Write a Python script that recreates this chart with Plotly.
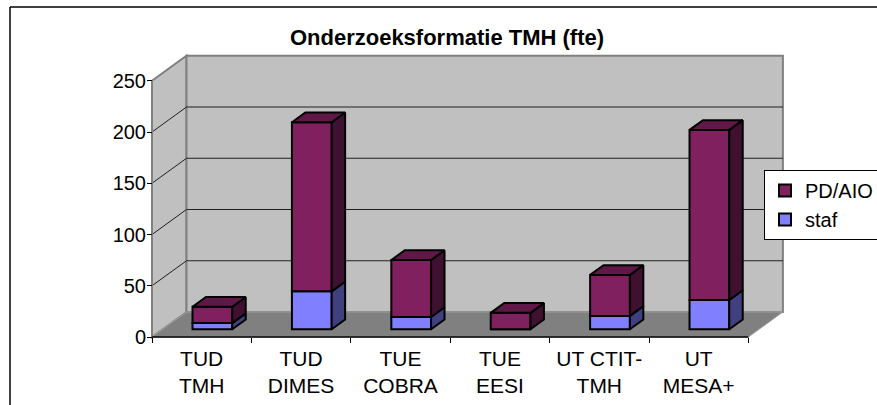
import plotly.graph_objects as go

# ---- data ----
categories = ["TUD<br>TMH", "TUD<br>DIMES", "TUE<br>COBRA", "TUE<br>EESI", "UT CTIT-<br>TMH", "UT<br>MESA+"]
staf = [6, 37, 12, 0, 13, 28.5]
pd_aio = [16, 165, 55.5, 16, 40, 166]
y_ticks = [0, 50, 100, 150, 200, 250]
title_text = "Onderzoeksformatie TMH (fte)"

# ---- geometry (pixels -> data units) ----
W, H = 877, 405
PX = 99.4          # px per category
PY = 1.025         # px per value unit
X0PX, Y0PX = 152, 337   # pixel position of origin (front axis)
L, R, T, B = 142, 84, 46, 58
plotW = W - L - R
plotH = H - T - B
xmin = -(X0PX - L) / PX
xmax = xmin + plotW / PX
ymin = -((H - B) - Y0PX) / PY
ymax = ymin + plotH / PY

DX = 34.5 / PX      # depth vector of floor (x units)
DY = 25.0 / PY      # depth vector of floor (y units)
F0, F1 = 0.31, 0.70  # bar front/back depth fractions
BW = 0.40            # bar width in category units
n = len(categories)
ymax_axis = y_ticks[-1]

c_pd, c_pd_side, c_pd_top = "#80205F", "#401030", "#601848"
c_st, c_st_side, c_st_top = "#8080FF", "#404080", "#6060C0"

fig = go.Figure()

def poly(pts):
    return "M " + " L ".join(f"{x},{y}" for x, y in pts) + " Z"

shapes = []
# side wall
shapes.append(dict(type="path", xref="x", yref="y", layer="below",
                   path=poly([(0, 0), (DX, DY), (DX, ymax_axis + DY), (0, ymax_axis)]),
                   fillcolor="#C0C0C0", line=dict(color="#808080", width=2)))
# back wall
shapes.append(dict(type="path", xref="x", yref="y", layer="below",
                   path=poly([(DX, DY), (n + DX, DY), (n + DX, ymax_axis + DY), (DX, ymax_axis + DY)]),
                   fillcolor="#C0C0C0", line=dict(color="#808080", width=2)))
# floor
shapes.append(dict(type="path", xref="x", yref="y", layer="below",
                   path=poly([(0, 0), (n, 0), (n + DX, DY), (DX, DY)]),
                   fillcolor="#808080", line=dict(color="#A0A0A0", width=1)))
# gridlines
for v in y_ticks[1:-1]:
    shapes.append(dict(type="line", xref="x", yref="y", layer="below",
                       x0=DX, x1=n + DX, y0=v + DY, y1=v + DY,
                       line=dict(color="#202020", width=1)))
    shapes.append(dict(type="line", xref="x", yref="y", layer="below",
                       x0=0, x1=DX, y0=v, y1=v + DY,
                       line=dict(color="#202020", width=1)))
# front vertical axis line and category axis line
shapes.append(dict(type="line", xref="x", yref="y", layer="below",
                   x0=0, x1=0, y0=0, y1=ymax_axis, line=dict(color="#808080", width=2)))
shapes.append(dict(type="line", xref="x", yref="y", layer="below",
                   x0=0, x1=n, y0=0, y1=0, line=dict(color="#000000", width=1.5)))

def px2paper_x(p):
    return (p - L) / plotW
def px2paper_y(p):
    return ((H - B) - p) / plotH

# outer chart border (top and left)
shapes.append(dict(type="line", xref="paper", yref="paper",
                   x0=px2paper_x(10), x1=px2paper_x(W + 5), y0=px2paper_y(7), y1=px2paper_y(7),
                   line=dict(color="#000000", width=1.5)))
shapes.append(dict(type="line", xref="paper", yref="paper",
                   x0=px2paper_x(10), x1=px2paper_x(10), y0=px2paper_y(7), y1=px2paper_y(H + 5),
                   line=dict(color="#000000", width=1.5)))

# bars: front faces via Bar traces
centers = [i + 0.5 + F0 * DX for i in range(n)]
base0 = F0 * DY
fig.add_trace(go.Bar(x=centers, y=staf, base=[base0] * n, width=BW, name="staf",
                     marker=dict(color=c_st, line=dict(color="black", width=2)),
                     legendrank=2, hoverinfo="skip"))
fig.add_trace(go.Bar(x=centers, y=pd_aio, base=[base0 + s for s in staf], width=BW, name="PD/AIO",
                     marker=dict(color=c_pd, line=dict(color="black", width=2)),
                     legendrank=1, hoverinfo="skip"))

ddx = (F1 - F0) * DX
ddy = (F1 - F0) * DY

def side_faces(bottoms, tops):
    xs, ys = [], []
    for i in range(n):
        if tops[i] <= bottoms[i]:
            continue
        x1 = centers[i] + BW / 2
        xs += [x1, x1 + ddx, x1 + ddx, x1, x1, None]
        ys += [bottoms[i], bottoms[i] + ddy, tops[i] + ddy, tops[i], bottoms[i], None]
    return xs, ys

def top_faces(tops):
    xs, ys = [], []
    for i in range(n):
        x0 = centers[i] - BW / 2
        x1 = centers[i] + BW / 2
        xs += [x0, x1, x1 + ddx, x0 + ddx, x0, None]
        ys += [tops[i], tops[i], tops[i] + ddy, tops[i] + ddy, tops[i], None]
    return xs, ys

st_bot = [base0] * n
st_top = [base0 + s for s in staf]
pd_top = [base0 + s + p for s, p in zip(staf, pd_aio)]

for xs, ys, col in [
    (*side_faces(st_bot, st_top), c_st_side),
    (*side_faces(st_top, pd_top), c_pd_side),
    (*top_faces(pd_top), c_pd_top),
]:
    fig.add_trace(go.Scatter(x=xs, y=ys, mode="lines", fill="toself", fillcolor=col,
                             line=dict(color="black", width=2), showlegend=False,
                             hoverinfo="skip"))

font_family = "Arial, Liberation Sans, sans-serif"
fig.update_layout(
    width=W, height=H,
    margin=dict(l=L, r=R, t=T, b=B, autoexpand=False),
    paper_bgcolor="white", plot_bgcolor="rgba(0,0,0,0)",
    barmode="overlay",
    shapes=shapes,
    font=dict(family=font_family, size=20, color="black"),
    title=dict(text="<b>" + title_text + "</b>", x=447 / W, xanchor="center",
               y=1 - 37 / H, yanchor="middle", font=dict(size=22, family=font_family)),
    xaxis=dict(range=[xmin, xmax], anchor="free", position=(0 - ymin) / (ymax - ymin),
               tickvals=[i + 0.5 for i in range(n)], ticktext=categories,
               ticks="", showgrid=False, zeroline=False, showline=False,
               tickfont=dict(size=21), ticklabelstandoff=7,
               minor=dict(tickvals=list(range(n + 1)), ticks="outside", ticklen=5,
                          tickcolor="black", tickwidth=1, showgrid=False)),
    yaxis=dict(range=[ymin, ymax], anchor="free", position=(0 - xmin) / (xmax - xmin),
               tickvals=y_ticks, ticks="outside", ticklen=5, tickcolor="black",
               showgrid=False, zeroline=False, showline=False, tickfont=dict(size=20),
               ticklabelstandoff=-3),
    legend=dict(x=px2paper_x(764), xanchor="left", y=px2paper_y(170), yanchor="top",
                bgcolor="white", bordercolor="black", borderwidth=1,
                font=dict(size=20), itemwidth=30, tracegroupgap=0),
    showlegend=True,
)

fig.write_html("out.html", config={"displayModeBar": False},
               post_script="document.body.style.margin='0';"
                           "document.documentElement.style.overflow='hidden';")
